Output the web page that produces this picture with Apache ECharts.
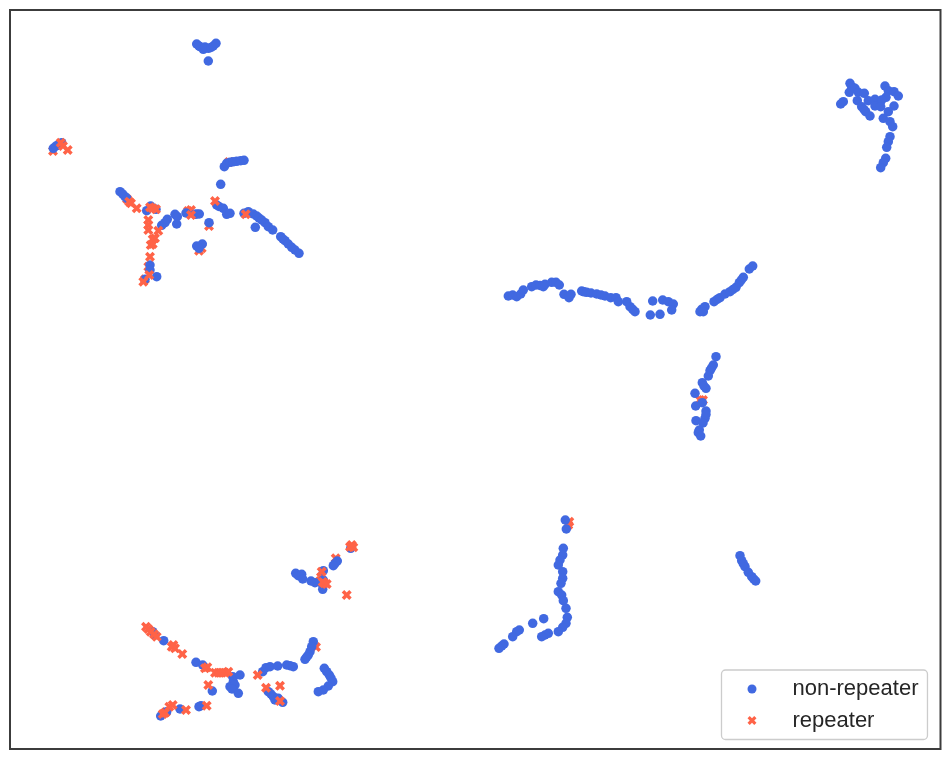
<!DOCTYPE html>
<html><head><meta charset="utf-8">
<style>html,body{margin:0;padding:0;background:#fff}#c{width:950px;height:760px}</style>
<script src="https://cdn.jsdelivr.net/npm/echarts@6/dist/echarts.min.js"></script>
</head><body><div id="c"></div>
<script>
const seriesNames = ["non-repeater", "repeater"];
const nonRepeater = [
[53.3,148.3],[56,146],[59,144],[61.7,142.7],
[120,191.7],[122.7,194],[125,196.7],[127,198.5],
[146.7,210.7],[150.7,206],[156,209.3],
[150,265],[150,270],[156.7,276.7],[145,279.3],
[161.7,225.3],[165,222.7],[167.3,219.3],[175,214.3],[177.3,216.7],[176.7,224],[186,213],[195,214.3],[197,214],[199.3,214],
[209,222.7],[196.7,246],[202.3,244],[199,248.3],
[216.7,205],[219,206.5],[223.3,208.3],[226.7,214.3],[230,213.3],[220.7,184.3],
[224.3,166.7],[226.7,163.3],[230,162.3],[233,161.8],[236.7,161.3],[240.7,160.7],[244,160.3],
[244,213.3],[248.3,211.7],[253.3,214],[256.7,216],[259,218],[261.7,220],[265,222.7],[268.3,226.7],[272.7,230],[255.3,227.3],
[280.7,236.7],[283,239],[285,240.7],[288.3,244],[291.7,247.3],[295,250],[299,253.3],
[196.7,44],[199,46],[200,46.7],[203.3,49.3],[208.3,48.3],[205,47],[211,47.5],[213.3,46],[216,43.3],[208.3,61],
[350.7,548.3],[337.3,561],[335,563.5],[333.3,565.7],[323.3,570.7],[323.3,580],[322.7,585],[322.7,589.3],
[295.7,573.3],[298.3,575.7],[301.7,574.3],[302.7,579],[311,581],[315,582.7],
[152.7,631.7],[155,635],[163.7,640.7],[196,662.3],[202.7,665],
[232.7,676.7],[240,675],[233.3,681.7],[230,686.7],[235,685],[232,689],[238.3,693.3],[212.3,691],
[201,705.7],[199,706.7],[160.7,716],[166.7,711.7],[180,709],
[262.7,671.7],[266,667.7],[270,666.7],[277.7,666],[286.7,665],[290,665.7],[293.3,666.7],
[313.3,641.7],[311.7,646.7],[310,651.7],[308.3,655],[305,659.3],[306.7,657],
[324.3,668.3],[326.7,671.7],[329.3,675],[331,678],[332.7,681.7],[328.3,686],[323.3,690],[318.3,691.7],
[268.3,691.7],[271,694],[273.3,696.7],[275,700],[278.3,698.3],[282.7,702.3],
[508.3,296],[512.7,295],[516.7,296.7],[520.7,294],[523.3,290],[531.7,286.7],[536,285],[540,285.5],[543.3,286.7],[545,284.3],[551.7,282.3],[556,282.3],[559.3,285],
[564,294.3],[569,297.7],[571,294.3],[581.7,291],[584,291.8],[586.7,292.3],[591,293],[596.7,294],[601,295],[605,296],[610.7,297.7],[616,297.7],[618.3,301.7],
[626.7,301.7],[630,306.7],[632.7,309.3],[635,311.7],[652.7,301],[650.3,315],[660,314.3],[662.7,300],[668.3,301.7],[673.3,304],[671.7,310],
[701.7,309.3],[705,306.7],[700,311.7],[703.3,311.7],[714,301.7],[717,299.5],[720,297.7],[725,294],[730,291.7],[733,289.5],[736,287.3],[739.3,282.7],[741.3,280],[743.3,277.3],[749.3,269],[752.7,266],
[716,356.7],[713.3,365],[711.5,368],[710,370.7],[708.3,376],[702.3,382.7],[706,388.3],[704,386],[695,393.3],[702.3,402.7],[695.7,406],[706,411],[705,418.3],[706,414.5],[696,420.7],[703,423],[699.3,430],[698.3,432.7],[700.7,436],
[850,83.3],[851.7,86.7],[849.3,92.3],[855,88.3],[858.3,92.3],[864.3,93.3],[843.3,101.7],[840.7,104],[857.3,100.7],[861.7,106.7],[864,109.5],[865.7,111.7],[870,116],[868.3,100.7],[875,99.3],
[885,86],[888.3,90.7],[886,97.3],[881.7,100],[875,106],[880.7,106.7],[894,91.7],[898.3,96],[894,106],[888.3,111.7],[883.3,118.3],[890,121.7],[892.7,126.7],[890,136.7],[888.3,141.7],[886.7,147.3],[885.7,158.3],[883.3,162.7],[880.7,167.7],
[565.3,520],[566.3,529],[563.3,548.3],[562.7,555],[560,560],[558.3,565],[562.7,571.7],[562.7,578.3],[561,583.3],[558.3,591.7],[561.7,595],[563.3,600.7],[566,608.3],[567.3,617.3],[566,623.3],[562.7,627.3],[558.3,631.7],
[548.3,633.3],[545,635],[541.7,636.7],[543.7,618.7],[532.7,623.3],[519.3,630],[516.7,631.7],[512.7,636.7],[504,644],[501.7,646],[499,648.3],
[740,555.7],[741.7,560.7],[743.3,563.7],[745,566.7],[748.3,572.3],[751.7,576.7],[753.7,579],[755.7,581]
];
const repeaterBehind = [
[53,151],[127,199],[209,226],[199,250.7],[201.7,248.3],[188,211],[191,210],[229,162],
[145,279.3],[148.3,266.7],[321,577],[335.7,558.3],[316,647],[320,581],[700,400],[703,400],[569.3,521.7],[568.3,525],[166,712]
];
const repeaterFront = [
[60.7,142.7],[63,146],[67.7,150],
[129.3,201.7],[131,203.3],[136.7,208.3],
[150,207.3],[152.7,208.3],[156,209.3],
[148.3,220],[148.3,225],[148.3,230],[158.3,230.7],[152.7,239.3],[155,238.3],[150.7,245],[152.7,244],[150,256.7],[149.3,275],[143.3,281.7],[191,215],
[215,201],[245.7,214.3],
[351.7,545],[350,546.7],[353.3,547.3],[321.7,571.7],[324.3,583.3],[322.7,582],[326.7,584],[346.7,595],
[146,626.7],[148.3,629],[150.7,631.7],[154,634.3],[156.7,636.7],[171.7,646.7],[175,648.3],[173.3,645],[182.3,654],
[207.3,667.3],[205,668.3],[215,672.7],[218.3,672.7],[221.7,672.7],[225,672.7],[228.3,671.7],
[208.3,685],[206.7,705.7],[162.7,714],[165,712.7],[169.3,706.7],[172.7,705],[186,710],[257.7,675],[266,687.7],[280,685.7],[280,701]
];
const chart = echarts.init(document.getElementById('c'), null, {renderer:'canvas'});
const xMark = 'path://M0.25 0L0.5 0.25L0.75 0L1 0.25L0.75 0.5L1 0.75L0.75 1L0.5 0.75L0.25 1L0 0.75L0.25 0.5L0 0.25Z';
const blue = '#4169e1', red = '#ff6347';
chart.setOption({
  animation:false,
  backgroundColor:'#fff',
  grid:{show:true,left:10,top:10,width:930.5,height:739,borderColor:'#3c3c3c',borderWidth:2,backgroundColor:'#fff'},
  xAxis:{type:'value',min:10,max:940.5,show:false},
  yAxis:{type:'value',min:10,max:749,inverse:true,show:false},
  legend:{
    data:seriesNames, left:721.5, top:670, orient:'vertical',
    padding:[8,9,8,26], itemWidth:9, itemHeight:9, itemGap:9.5,
    backgroundColor:'#fff', borderColor:'#cccccc', borderWidth:1.3, borderRadius:4,
    textStyle:{fontFamily:'"Liberation Sans",Arial,sans-serif',fontSize:22,color:'#262626',padding:[0,0,0,31]},
    selectedMode:false
  },
  series:[
    {name:'repeater',type:'scatter',data:repeaterBehind,symbol:xMark,symbolSize:10,itemStyle:{color:red,opacity:1},z:2},
    {name:'non-repeater',type:'scatter',data:nonRepeater,symbol:'circle',symbolSize:9.5,itemStyle:{color:blue,opacity:1},z:3},
    {name:'repeater',type:'scatter',data:repeaterFront,symbol:xMark,symbolSize:10,itemStyle:{color:red,opacity:1},z:4}
  ]
});
</script></body></html>
